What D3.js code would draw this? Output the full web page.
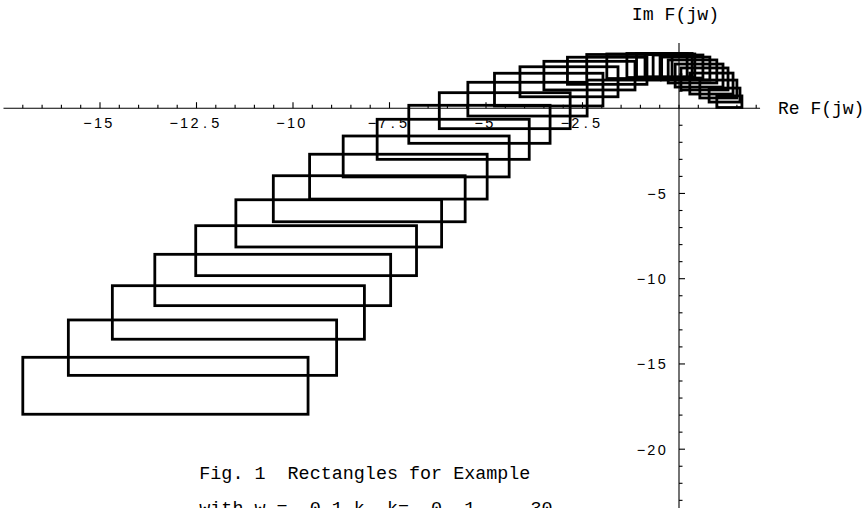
<!DOCTYPE html>
<html><head><meta charset="utf-8">
<script src="https://cdn.jsdelivr.net/npm/d3@7"></script>
<style>html,body{margin:0;padding:0;background:#fff;overflow:hidden}svg{display:block}</style>
</head><body>
<script>
// Interval rectangles of F(jw): real part [reLo, reHi], imaginary part [imLo, imHi]
const reLo = [-17.00,-15.82,-14.68,-13.58,-12.52,-11.48,-10.51,-9.57,-8.70,-7.82,-7.00,-6.21,-5.47,-4.78,-4.12,-3.50,-2.89,-2.39,-1.87,-1.35,-1.10,-0.88,-0.67,-0.45,-0.28,-0.10,0.05,0.28,0.54,0.78,0.98];
const reHi = [-9.61,-8.87,-8.15,-7.47,-6.80,-6.15,-5.54,-4.97,-4.40,-3.88,-3.34,-2.82,-2.38,-1.97,-1.58,-1.14,-0.83,-0.49,-0.18,0.21,0.34,0.41,0.62,0.80,0.98,1.14,1.27,1.40,1.50,1.58,1.63];
const imLo = [-17.95,-15.67,-13.55,-11.58,-9.82,-8.14,-6.66,-5.33,-4.03,-3.00,-2.06,-1.20,-0.46,0.13,0.67,1.07,1.40,1.65,1.74,1.80,1.83,1.83,1.77,1.65,1.48,1.24,1.07,0.83,0.60,0.36,0.04];
const imHi = [-14.61,-12.42,-10.41,-8.57,-6.89,-5.37,-3.96,-2.70,-1.63,-0.65,0.17,0.91,1.52,2.05,2.43,2.75,2.99,3.15,3.18,3.21,3.21,3.18,3.12,3.00,2.83,2.59,2.36,2.06,1.65,1.18,0.72];

const xTicks = [-15,-12.5,-10,-7.5,-5,-2.5];
const xTickLabels = ["-15","-12.5","-10","-7.5","-5","-2.5"];
const yTicks = [-20,-15,-10,-5];
const yTickLabels = ["-20","-15","-10","-5"];
const xAxisRange = [-17.5, 2.1];
const yAxisRange = [-24, 3.82];
const xLabel = "Re F(jw)";
const yLabel = "Im F(jw)";
const caption1 = "Fig. 1  Rectangles for Example";
const caption2 = "with w =  0.1 k, k=  0, 1,...,30";

const W = 867, H = 508;
const x = d3.scaleLinear().domain([-15, 0]).range([100, 679]);
const y = d3.scaleLinear().domain([0, -20]).range([108.2, 449.2]);

const svg = d3.select("body").append("svg").attr("width", W).attr("height", H);

// axes
const ax = svg.append("g").attr("stroke", "#000").attr("stroke-width", 1.1);
ax.append("line").attr("x1", x(xAxisRange[0])).attr("x2", x(xAxisRange[1])).attr("y1", y(0)).attr("y2", y(0));
ax.append("line").attr("x1", x(0)).attr("x2", x(0)).attr("y1", y(yAxisRange[1])).attr("y2", y(yAxisRange[0]));

const xMinor = d3.range(-34, 5).map(i => i / 2);
ax.selectAll(".xt").data(xMinor).join("line")
  .attr("x1", d => x(d)).attr("x2", d => x(d))
  .attr("y1", y(0)).attr("y2", d => y(0) - (xTicks.includes(d) ? 6 : 3.5));
const yMinor = d3.range(-23, 4).filter(d => d !== 0);
ax.selectAll(".yt").data(yMinor).join("line")
  .attr("y1", d => y(d)).attr("y2", d => y(d))
  .attr("x1", x(0)).attr("x2", d => x(0) + (yTicks.includes(d) ? 6 : 3.5));

// fixed-pitch tick labels
function pitchText(str, cx, by, anchor, adv) {
  const n = str.length;
  const start = anchor === "middle" ? cx - n * adv / 2 : anchor === "end" ? cx - n * adv : cx;
  const t = svg.append("text").attr("y", by).attr("text-anchor", "middle")
    .attr("font-family", "'Liberation Sans', Arial, sans-serif").attr("font-size", 14.5).attr("fill", "#000");
  for (let i = 0; i < n; i++) {
    const ch = str[i] === "-" ? "\u2212" : str[i];
    t.append("tspan").attr("x", start + (i + 0.5) * adv).text(ch);
  }
}
xTicks.forEach((d, i) => pitchText(xTickLabels[i], x(d) - 2, 127.5, "middle", 10.4));
yTicks.forEach((d, i) => pitchText(yTickLabels[i], 667, y(d) + 5.5, "end", 10.4));

// rectangles
const rects = reLo.map((d, i) => ({x0: d, x1: reHi[i], y0: imLo[i], y1: imHi[i]}));
svg.append("g").selectAll("rect").data(rects).join("rect")
  .attr("x", d => x(d.x0)).attr("y", d => y(d.y1))
  .attr("width", d => x(d.x1) - x(d.x0)).attr("height", d => y(d.y0) - y(d.y1))
  .attr("fill", "none").attr("stroke", "#000").attr("stroke-width", 2.8);

// labels
const mono = "'Liberation Mono', 'Courier New', monospace";
svg.append("text").attr("x", 675.5).attr("y", 19.5).attr("text-anchor", "middle")
  .attr("font-family", mono).attr("font-size", 18.2).text(yLabel);
svg.append("text").attr("x", 778).attr("y", 113.5)
  .attr("font-family", mono).attr("font-size", 18).text(xLabel);
svg.append("text").attr("x", 199.3).attr("y", 479).style("white-space", "pre")
  .attr("font-family", mono).attr("font-size", 18.4).text(caption1);
svg.append("text").attr("x", 199.3).attr("y", 514).style("white-space", "pre")
  .attr("font-family", mono).attr("font-size", 18.4).text(caption2);
</script>
</body></html>
